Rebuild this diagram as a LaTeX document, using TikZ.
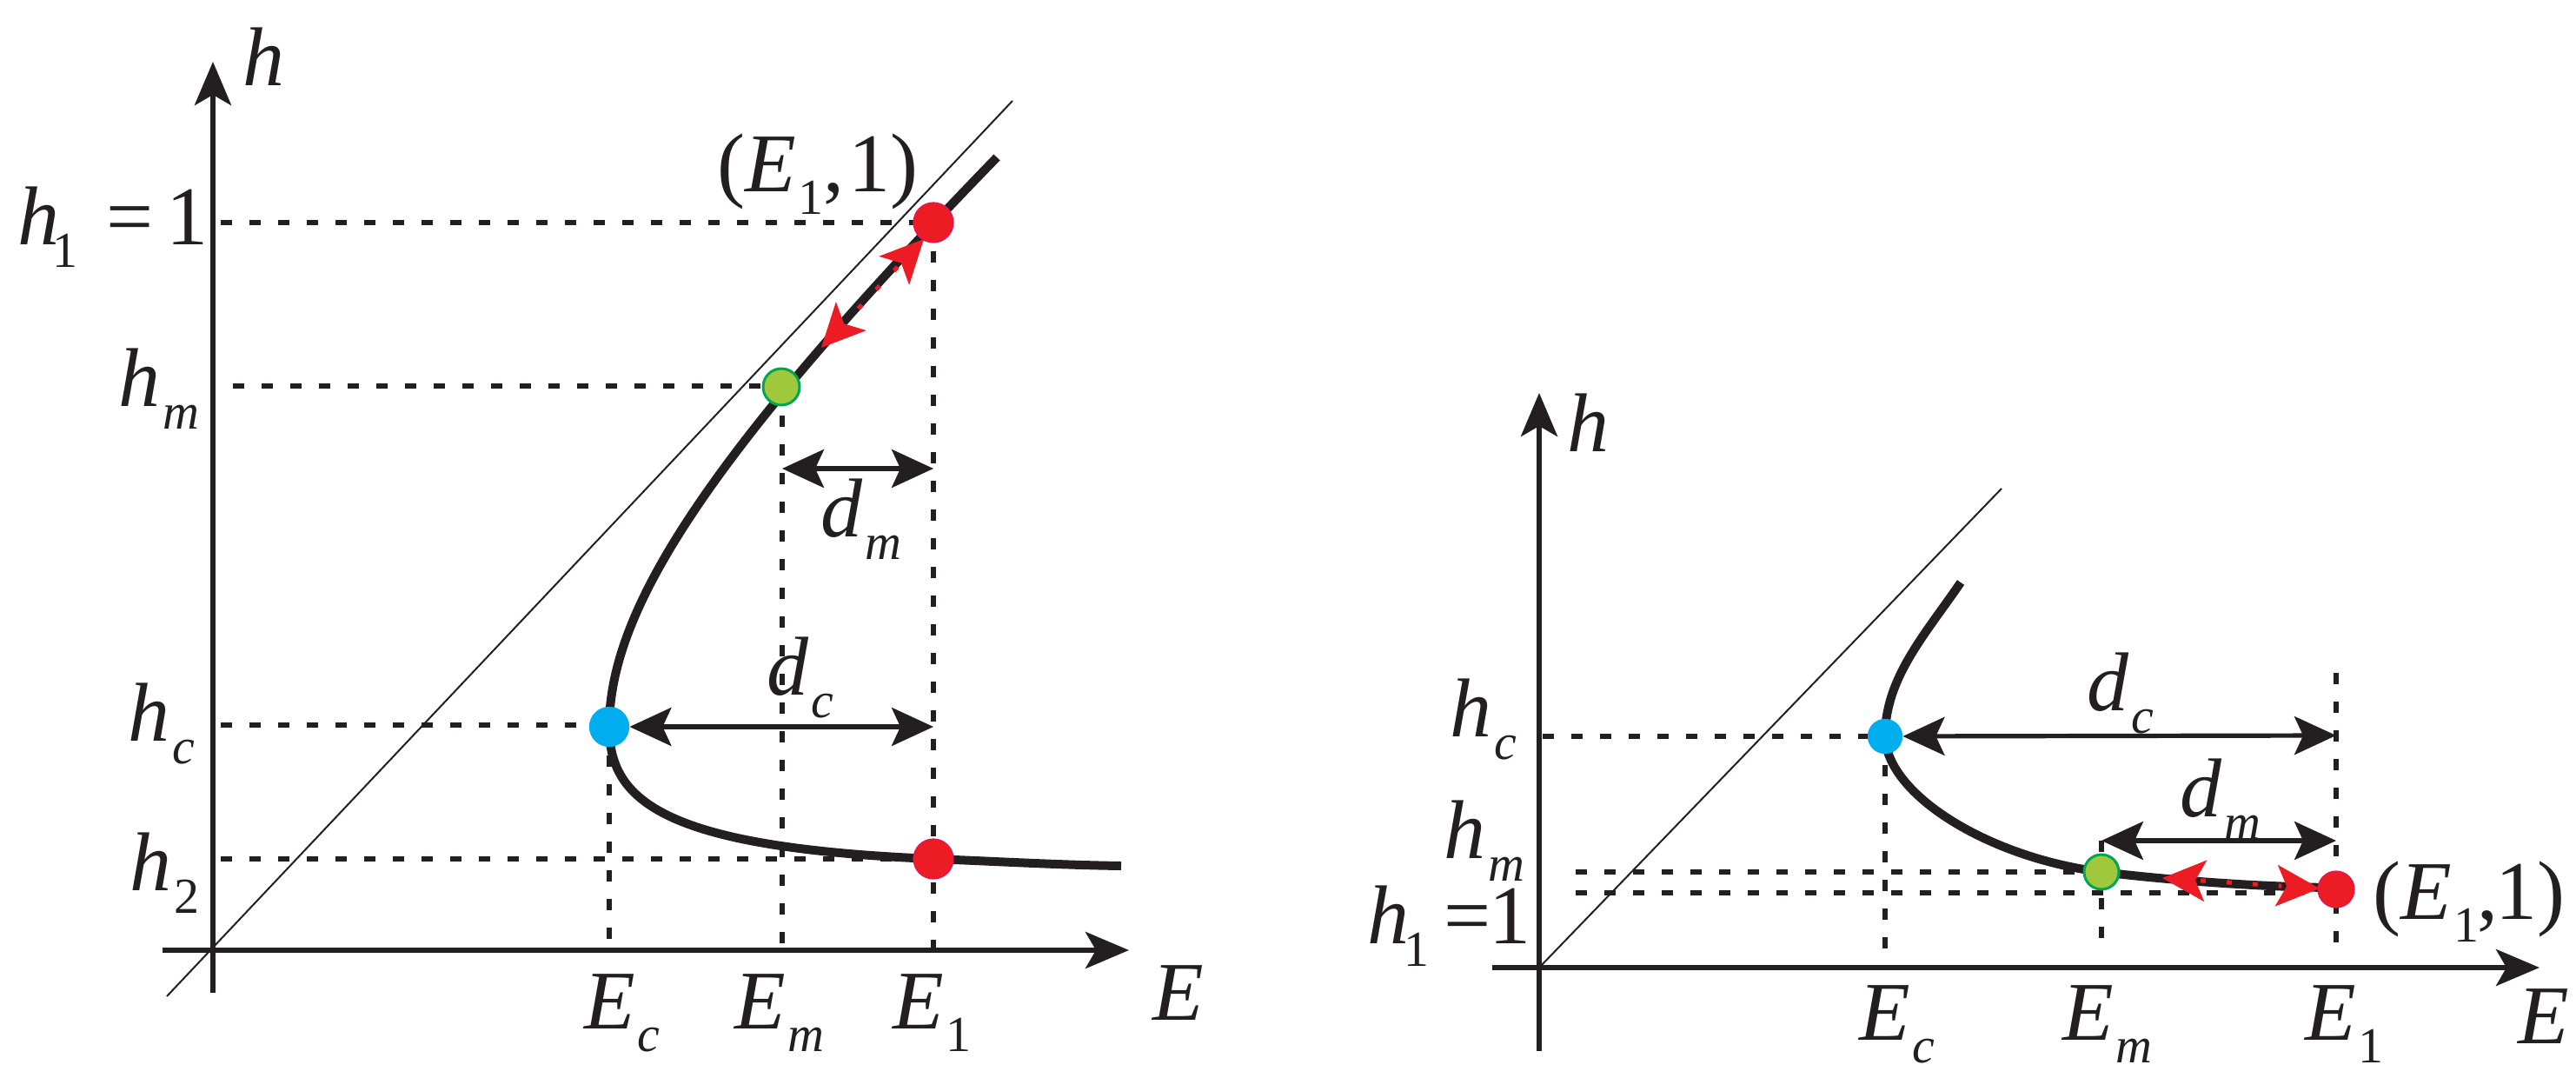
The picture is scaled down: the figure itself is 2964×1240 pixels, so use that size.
\documentclass[tikz,border=0pt]{standalone}
\usepackage{fontspec}
\setmainfont{Liberation Serif}
\newfontfamily\tnr{Liberation Serif}
\usetikzlibrary{arrows.meta,calc}
\definecolor{ink}{RGB}{35,31,32}
\definecolor{redc}{RGB}{237,28,36}
\definecolor{redb}{RGB}{228,19,90}
\definecolor{greenf}{RGB}{160,200,60}
\definecolor{greenb}{RGB}{0,166,81}
\definecolor{bluec}{RGB}{0,174,239}
\newcommand{\subsz}{\fontsize{29}{29}\selectfont}
\newcommand{\lowsub}[1]{\raisebox{-13pt}{\subsz #1}}
\newcommand{\vs}[2]{{\itshape #1}\kern0.03em\lowsub{#2}}
% red arrow head: tip at #1, pointing away from #2
\newcommand{\redhead}[2]{\fill[redc] (#1) -- ($(#1)!25pt!(#2)!12pt!90:(#2)$) -- ($(#1)!19pt!(#2)$) -- ($(#1)!25pt!(#2)!12pt!-90:(#2)$) -- cycle;}
\begin{document}
\begin{tikzpicture}[x=0.5pt,y=-0.5pt,
  axis/.style={line width=3.2pt, draw=ink, -{Stealth[length=25pt,width=21pt,inset=6pt]}},
  diag/.style={line width=1pt, draw=ink},
  guide/.style={line width=3pt, draw=ink, dash pattern=on 6.5pt off 10pt},
  curve/.style={line width=5pt, draw=ink, line cap=butt},
  dim/.style={line width=2.6pt, draw=ink, {Stealth[length=24pt,width=22pt,inset=5pt]}-{Stealth[length=24pt,width=22pt,inset=5pt]}},
  moveline/.style={line width=2.5pt, draw=redc, dash pattern=on 3pt off 12pt, shorten <=22pt, shorten >=22pt},
  reddot/.style={circle, inner sep=0pt, minimum size=#1, fill=redc, draw=redb, line width=0.6pt},
  greendot/.style={circle, inner sep=0pt, minimum size=#1, fill=greenf, draw=greenb, line width=1.5pt},
  bluedot/.style={circle, inner sep=0pt, minimum size=#1, fill=bluec},
  lab/.style={inner sep=0pt, anchor=north west, font=\tnr\fontsize{48}{48}\selectfont, text=ink}
]
\useasboundingbox (0,0) rectangle (2964,1240);

% ================= LEFT PANEL =================
\coordinate (yLb) at (245,1142);
\coordinate (yLt) at (245,71);
\coordinate (xLl) at (187,1093);
\coordinate (xLr) at (1299,1093);
\coordinate (dLa) at (192,1146);
\coordinate (dLb) at (1165,116);

\coordinate (gh1L) at (254,256);
\coordinate (ghmL) at (268,444);
\coordinate (ghcL) at (254,834);
\coordinate (gh2L) at (254,988);
\coordinate (gEcL) at (701,1093);
\coordinate (gEmL) at (900,1093);
\coordinate (gE1L) at (1074,1093);

\draw[guide] (gh1L) -- (1074,256);
\draw[guide] (ghmL) -- (899,444);
\draw[guide] (ghcL) -- (701,834);
\draw[guide] (gh2L) -- (1074,988);
\draw[guide] (701,836) -- (gEcL);
\draw[guide] (900,445) -- (gEmL);
\draw[guide] (1074,256) -- (gE1L);

\draw[diag] (dLa) -- (dLb);
\draw[axis] (yLb) -- (yLt);
\draw[axis] (xLl) -- (xLr);

\draw[curve] (1147,181) .. controls (817,521) and (701,700) .. (701,836)
  .. controls (701,920) and (760,975) .. (1074,988)
  .. controls (1150,991) and (1220,995) .. (1290,996);

\coordinate (dmLa) at (900,539);
\coordinate (dmLb) at (1074,539);
\draw[dim] (dmLa) -- (dmLb);

\node[bluedot=23pt] (bcL) at (701,836) {};
\coordinate (dcLb) at (1074,836);
\draw[dim] (bcL) -- (dcLb);

\coordinate (mvLa) at (1063,275);
\coordinate (mvLb) at (945,400);
\draw[moveline] (mvLa) -- (mvLb);
\redhead{mvLa}{mvLb}
\redhead{mvLb}{mvLa}

\node[reddot=23pt] (r1L) at (1074,256) {};
\node[greendot=21pt] (gmL) at (899,445) {};
\node[bluedot=23pt] at (bcL) {};
\node[reddot=23pt] (r2L) at (1074,988) {};

\node[lab] (lhL) at (279,31) {\itshape h};
\node[lab] (lh1L) at (20,214) {{\itshape h}\kern-0.08em\lowsub{1}\kern0.34em=\kern0.16em1};
\node[lab] (lhmL) at (136,400) {\vs{h}{\itshape m}};
\node[lab] (lhcL) at (147,785) {\vs{h}{\itshape c}};
\node[lab] (lh2L) at (149,957) {\vs{h}{2}};
\node[lab] (lEcL) at (672,1120) {\vs{E}{\itshape c}};
\node[lab] (lEmL) at (845,1120) {\vs{E}{\itshape m}};
\node[lab] (lE1L) at (1027,1120) {\vs{E}{1}};
\node[lab] (lEL) at (1326,1110) {\itshape E};
\node[lab] (ldmL) at (944,550) {\vs{d}{\itshape m}};
\node[lab] (ldcL) at (882,732) {\vs{d}{\itshape c}};
\node[lab] (lptL) at (825,153) {(\vs{E}{1},\kern0.05em1)};

% ================= RIGHT PANEL =================
\coordinate (yRb) at (1771,1209);
\coordinate (yRt) at (1771,452);
\coordinate (xRl) at (1717,1113);
\coordinate (xRr) at (2922,1113);
\coordinate (dRa) at (1771,1113);
\coordinate (dRb) at (2303,562);

\coordinate (ghcR) at (1775,847);
\coordinate (ghmR) at (1813,1003);
\coordinate (gh1R) at (1813,1027);
\coordinate (gEcR) at (2169,1099);
\coordinate (gEmR) at (2418,1099);
\coordinate (gE1Rt) at (2688,774);
\coordinate (gE1Rb) at (2688,1099);

\draw[guide] (ghcR) -- (2169,847);
\draw[guide] (ghmR) -- (2418,1003);
\draw[guide] (gh1R) -- (2688,1027);
\draw[guide] (2169,847) -- (gEcR);
\draw[guide] (2418,967) -- (gEmR);
\draw[guide] (gE1Rt) -- (gE1Rb);

\draw[diag] (dRa) -- (dRb);
\draw[axis] (yRb) -- (yRt);
\draw[axis] (xRl) -- (xRr);

\draw[curve] (2256,670) .. controls (2215,730) and (2169,780) .. (2169,847)
  .. controls (2171,915) and (2290,987) .. (2418,1003)
  .. controls (2500,1013) and (2600,1020) .. (2680,1021);

\node[bluedot=20pt] (bcR) at (2169,847) {};
\coordinate (dcRb) at (2688,846);
\draw[dim] (bcR) -- (dcRb);
\coordinate (dmRa) at (2418,967);
\coordinate (dmRb) at (2688,967);
\draw[dim] (dmRa) -- (dmRb);

\coordinate (mvRa) at (2488,1010);
\coordinate (mvRb) at (2669,1022);
\draw[moveline] (mvRa) -- (mvRb);
\redhead{mvRa}{mvRb}
\redhead{mvRb}{mvRa}

\node[bluedot=20pt] at (bcR) {};
\node[greendot=20pt] (gmR) at (2418,1003) {};
\node[reddot=21pt] (r1R) at (2688,1023) {};

\node[lab] (lhR) at (1803,452) {\itshape h};
\node[lab] (lhcR) at (1668,780) {\vs{h}{\itshape c}};
\node[lab] (lhmR) at (1661,920) {\vs{h}{\itshape m}};
\node[lab] (lh1R) at (1573,1018) {{\itshape h}\kern-0.06em\lowsub{1}\kern0.18em=\kern-0.03em1};
\node[lab] (lEcR) at (2139,1133) {\vs{E}{\itshape c}};
\node[lab] (lEmR) at (2373,1133) {\vs{E}{\itshape m}};
\node[lab] (lE1R) at (2652,1133) {\vs{E}{1}};
\node[lab] (lER) at (2897,1137) {\itshape E};
\node[lab] (ldcR) at (2401,750) {\vs{d}{\itshape c}};
\node[lab] (ldmR) at (2508,872) {\vs{d}{\itshape m}};
\node[lab] (lptR) at (2730,990) {(\vs{E}{1}\kern-0.03em,\kern-0.03em1)};
\end{tikzpicture}
\end{document}
